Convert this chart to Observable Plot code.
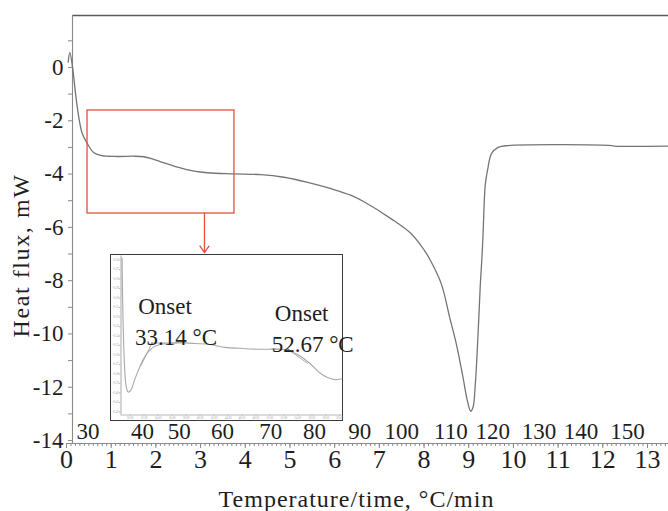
<!DOCTYPE html>
<html>
<head>
<meta charset="utf-8">
<script src="https://cdn.jsdelivr.net/npm/d3@7"></script>
<script src="https://cdn.jsdelivr.net/npm/@observablehq/plot@0.6"></script>
<style>
  html, body { margin: 0; padding: 0; background: #fff; }
  #chart { position: relative; width: 668px; height: 511px; overflow: hidden; }
  #inset { position: absolute; left: 110px; top: 254px; border: 1.5px solid #3a3a3a; background: #fff; }
  svg { overflow: visible; }
</style>
</head>
<body>
<div id="chart"><div id="inset"></div></div>
<script>
// DSC trace: time (min) and heat flux (mW)
const time = [0.038, 0.074, 0.135, 0.202, 0.276, 0.352, 0.464, 0.605, 0.762, 1.137, 1.502, 1.733,
  1.92, 2.108, 2.482, 2.854, 3.155, 3.744, 4.350, 4.865, 5.397, 5.919, 6.368, 6.666, 7.265, 7.713,
  8.011, 8.123, 8.386, 8.572, 8.722, 8.872, 8.969, 9.043, 9.096, 9.148, 9.209, 9.260, 9.294,
  9.321, 9.372, 9.433, 9.507, 9.657, 9.881, 12.197, 12.271, 13.498];
const flux = [0.20, 0.57, 0.01, -0.98, -1.88, -2.48, -2.85, -3.19, -3.30, -3.34, -3.33, -3.35,
  -3.43, -3.54, -3.74, -3.89, -3.95, -3.99, -4.02, -4.12, -4.31, -4.55, -4.80, -5.05, -5.68, -6.24,
  -6.87, -7.18, -8.12, -9.37, -10.37, -11.63, -12.50, -12.90, -12.75, -11.87, -9.99, -8.12, -7.18,
  -6.24, -4.37, -3.74, -3.24, -3.00, -2.93, -2.93, -2.95, -2.95];

// Axis tick labels
const timeTicks = [0, 1, 2, 3, 4, 5, 6, 7, 8, 9, 10, 11, 12, 13];
const fluxTicks = [-14, -12, -10, -8, -6, -4, -2, 0];
const fluxMinorTicks = [-13, -11, -9, -7, -5, -3, -1, 1];
// Temperature (°C) reached at a given time (min)
const tempLabels = [30, 40, 50, 60, 70, 80, 90, 100, 110, 120, 130, 140, 150];
const tempLabelTime = [0.48, 1.70, 2.52, 3.49, 4.57, 5.55, 6.56, 7.50, 8.60, 9.54, 10.57, 11.51, 12.55];

// Enlarged window (time range, flux range)
const zoomTime = [0.470, 3.758];
const zoomFlux = [-1.614, -5.48];
const arrowTime = [3.087];
const arrowFlux = [-5.48, -6.944];

// Enlarged segment: temperature (°C) and heat flow (mW)
const insetTemp = [28.86, 29.0, 29.21, 29.43, 29.71, 30.14, 30.57, 31.14, 31.86, 32.57, 33.29,
  34.29, 35.71, 37.14, 39.29, 41.43, 43.57, 45.71, 48.57, 51.43, 52.86, 54.29, 55.71, 57.14,
  58.29, 59.29, 60.29];
const insetFlux = [-0.258, -0.323, -0.371, -0.392, -0.399, -0.397, -0.388, -0.377, -0.365, -0.357,
  -0.352, -0.349, -0.348, -0.347, -0.348, -0.349, -0.352, -0.353, -0.354, -0.354, -0.356, -0.361,
  -0.369, -0.379, -0.384, -0.386, -0.385];
const insetTempTicks = [30, 32, 34, 36, 38, 40, 42, 44, 46, 48, 50, 52, 54, 56, 58, 60];
const insetFluxTicks = [-0.42, -0.41, -0.40, -0.39, -0.38, -0.37, -0.36, -0.35, -0.34, -0.33,
  -0.32, -0.31, -0.30, -0.29, -0.28, -0.27, -0.26];

// Onset points and their tangent construction lines
const onsetTemp = [33.14, 52.67];
const onsetFlux = [-0.3475, -0.3545];
const tangentStartTemp = [31.5, 50.2];
const tangentStartFlux = [-0.372, -0.3535];
const tangentEndTemp = [38.0, 55.4];
const tangentEndFlux = [-0.347, -0.369];

const serif = "'Liberation Serif', 'Times New Roman', serif";
const ink = "#1e1e1e";
const red = "#e4503f";

const curve = time.map((t, i) => ({t, v: flux[i]}));
// the vertical axis sits a little after t = 0
const xDomain = [0.134, 13.47];
const yDomain = [-14.11, 1.95];

const xTitle = "Temperature/time, °C/min";
const yTitle = "Heat flux, mW";

const main = Plot.plot({
  width: 668,
  height: 511,
  marginLeft: 72,
  marginRight: 0,
  marginTop: 15,
  marginBottom: 68,
  x: {domain: xDomain, axis: null, label: null},
  y: {domain: yDomain, axis: null, label: null},
  style: {fontFamily: serif, background: "white", overflow: "visible", color: ink},
  marks: [
    // frame lines
    Plot.ruleY([yDomain[1]], {stroke: "#5a5a5a", strokeWidth: 1.6}),
    Plot.ruleX([xDomain[0]], {stroke: "#8a8a8a", strokeWidth: 1.1}),
    Plot.ruleY([yDomain[0]], {x1: 0, x2: xDomain[1], stroke: "#8a8a8a", strokeWidth: 1.1}),
    // y axis
    Plot.axisY(fluxMinorTicks, {tickSize: 4, text: null, stroke: "#8a8a8a", label: null}),
    Plot.axisY(fluxTicks, {tickSize: 4, tickPadding: 5, fontSize: 23, fill: ink, label: null,
      stroke: "#8a8a8a", tickFormat: d => String(d)}),
    // x axis
    Plot.axisX(d3.range(0, 135).map(i => i / 10), {tickSize: 3, text: null, stroke: "#8a8a8a", label: null}),
    Plot.axisX(timeTicks, {tickSize: 5, tickPadding: 1, fontSize: 26, fill: ink, label: null,
      stroke: "#8a8a8a", tickFormat: d => String(d)}),
    // temperature labels along the time axis
    Plot.text(tempLabels, {x: (d, i) => tempLabelTime[i], text: d => String(d),
      frameAnchor: "bottom", lineAnchor: "bottom", dy: -5, fontSize: 23, fill: ink}),
    // DSC curve
    Plot.line(curve, {x: "t", y: "v", stroke: "#757575", strokeWidth: 1.3, curve: "catmull-rom"}),
    // enlarged window and pointer
    Plot.rect([0], {x1: () => zoomTime[0], x2: () => zoomTime[1], y1: () => zoomFlux[0],
      y2: () => zoomFlux[1], fill: "none", stroke: red, strokeWidth: 1.3}),
    Plot.arrow([0], {x1: () => arrowTime[0], x2: () => arrowTime[0], y1: () => arrowFlux[0],
      y2: () => arrowFlux[1], stroke: red, strokeWidth: 1.3, headLength: 9, headAngle: 70}),
    // axis titles
    Plot.text([xTitle], {text: d => d, frameAnchor: "bottom", lineAnchor: "bottom",
      dx: -14, dy: 63, fontSize: 24, fill: ink}),
    Plot.text([yTitle], {text: d => d, frameAnchor: "left", textAnchor: "middle", rotate: -90,
      lineAnchor: "middle", dx: -51, dy: 26, fontSize: 24, fill: ink})
  ]
});

d3.select(main).selectAll("text")
  .filter(function () { return this.textContent === xTitle; })
  .attr("letter-spacing", 1);
d3.select(main).selectAll("text")
  .filter(function () { return this.textContent === yTitle; })
  .attr("letter-spacing", 1.6);

const chart = document.getElementById("chart");
chart.insertBefore(main, chart.firstChild);

const segment = insetTemp.map((t, i) => ({t, v: insetFlux[i]}));
const tangents = [];
onsetTemp.forEach((t, i) => {
  tangents.push({x1: tangentStartTemp[i], y1: tangentStartFlux[i], x2: t, y2: onsetFlux[i]});
  tangents.push({x1: t, y1: onsetFlux[i], x2: tangentEndTemp[i], y2: tangentEndFlux[i]});
});
const onsets = onsetTemp.map((t, i) => ({t, v: onsetFlux[i], label: `${t.toFixed(2)} °C`}));

const inset = Plot.plot({
  width: 231,
  height: 165,
  marginLeft: 9.5,
  marginRight: 0.5,
  marginTop: 0.5,
  marginBottom: 5.5,
  x: {domain: [28.71, 60.29], axis: null, label: null},
  y: {domain: [-0.4232, -0.2558], axis: null, label: null},
  style: {fontFamily: serif, background: "white", overflow: "visible", color: ink},
  marks: [
    Plot.ruleX([28.71], {stroke: "#b8b8b8", strokeWidth: 1.2}),
    Plot.ruleY([-0.4232], {stroke: "#b8b8b8", strokeWidth: 1}),
    Plot.axisY(insetFluxTicks, {tickSize: 1.5, tickPadding: 0.8, fontSize: 3, fill: "#a0a0a0",
      stroke: "#b8b8b8", label: null, tickFormat: d => d.toFixed(2)}),
    Plot.axisX(insetTempTicks, {tickSize: 1.2, tickPadding: 0.5, fontSize: 3, fill: "#a0a0a0",
      stroke: "#b8b8b8", label: null, tickFormat: d => d.toFixed(2)}),
    Plot.link(tangents, {x1: "x1", y1: "y1", x2: "x2", y2: "y2", stroke: "#9a9a9a", strokeWidth: 0.8}),
    Plot.line(segment, {x: "t", y: "v", stroke: "#a8a8a8", strokeWidth: 1.1, curve: "catmull-rom"}),
    Plot.dot(onsets, {x: "t", y: "v", r: 0.9, fill: "#777"}),
    Plot.text(onsets, {x: "t", y: "v", text: () => "Onset", lineAnchor: "bottom",
      dx: 13, dy: -29, fontSize: 23, fill: ink}),
    Plot.text(onsets, {x: "t", y: "v", text: "label", lineAnchor: "bottom",
      dx: 24, dy: 2, fontSize: 23, fill: ink})
  ]
});
document.getElementById("inset").appendChild(inset);
</script>
</body>
</html>
